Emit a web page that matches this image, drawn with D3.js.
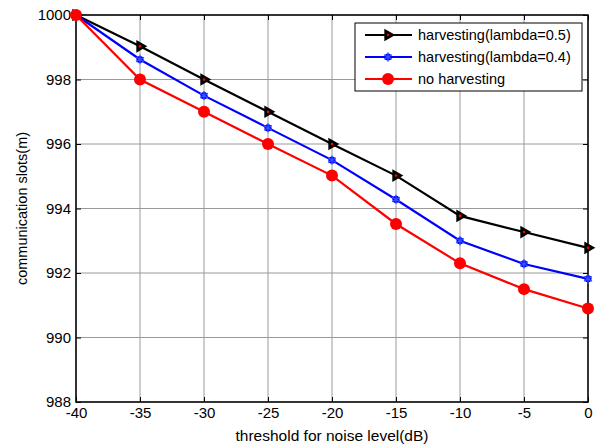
<!DOCTYPE html>
<html>
<head>
<meta charset="utf-8">
<script src="https://cdn.jsdelivr.net/npm/d3@7"></script>
<style>
  body { margin: 0; background: #fff; }
  text { font-family: "Liberation Sans", Arial, sans-serif; }
</style>
</head>
<body>
<svg id="chart" width="598" height="444"></svg>
<script>
var xValues = [-40, -35, -30, -25, -20, -15, -10, -5, 0];
var harvest05 = [1000, 999.03, 998.0, 997.0, 996.0, 995.02, 993.77, 993.27, 992.78];
var harvest04 = [1000, 998.62, 997.5, 996.5, 995.5, 994.28, 993.0, 992.28, 991.82];
var noHarvest = [1000, 998.0, 997.0, 996.0, 995.02, 993.52, 992.3, 991.5, 990.9];
var seriesNames = ["harvesting(lambda=0.5)", "harvesting(lambda=0.4)", "no harvesting"];
var xTicks = [-40, -35, -30, -25, -20, -15, -10, -5, 0];
var yTicks = [988, 990, 992, 994, 996, 998, 1000];

var margin = {left: 76, right: 10, top: 15, bottom: 42};
var width = 598, height = 444;

var svg = d3.select("#chart");

var x = d3.scaleLinear().domain([-40, 0]).range([margin.left, width - margin.right]);
var y = d3.scaleLinear().domain([988, 1000]).range([height - margin.bottom, margin.top]);

var colors = ["#000000", "#0000ff", "#ff0000"];
var series = [harvest05, harvest04, noHarvest];

// plain hyphen like matlab
var fmt = function(d) { return String(d); };

// grid
svg.append("g")
  .selectAll("line.gx")
  .data(xTicks)
  .enter()
  .append("line")
  .attr("x1", d => x(d)).attr("x2", d => x(d))
  .attr("y1", y(988)).attr("y2", y(1000))
  .attr("stroke", "#9a9a9a")
  .attr("stroke-width", 1);

svg.append("g")
  .selectAll("line.gy")
  .data(yTicks)
  .enter()
  .append("line")
  .attr("y1", d => y(d)).attr("y2", d => y(d))
  .attr("x1", x(-40)).attr("x2", x(0))
  .attr("stroke", "#9a9a9a")
  .attr("stroke-width", 1);

// axes
var xAxis = d3.axisBottom(x).tickValues(xTicks).tickSize(-5).tickPadding(5).tickFormat(fmt);
var yAxis = d3.axisLeft(y).tickValues(yTicks).tickSize(-5).tickPadding(5).tickFormat(fmt);
var xTop = d3.axisTop(x).tickValues(xTicks).tickSize(-5).tickFormat("");
var yRight = d3.axisRight(y).tickValues(yTicks).tickSize(-5).tickFormat("");

function styleAxis(g) {
  g.select(".domain").remove();
  g.selectAll("line").attr("stroke", "#000");
  g.selectAll("text").attr("fill", "#000").style("font-size", "15px")
    .style("font-family", "'Liberation Sans', Arial, sans-serif");
}

svg.append("g").attr("transform", "translate(0," + y(988) + ")").call(xAxis).call(styleAxis);
svg.append("g").attr("transform", "translate(" + x(-40) + ",0)").call(yAxis).call(styleAxis);
svg.append("g").attr("transform", "translate(0," + y(1000) + ")").call(xTop).call(styleAxis);
svg.append("g").attr("transform", "translate(" + x(0) + ",0)").call(yRight).call(styleAxis);

svg.append("rect")
  .attr("x", x(-40)).attr("y", y(1000))
  .attr("width", x(0) - x(-40)).attr("height", y(988) - y(1000))
  .attr("fill", "none").attr("stroke", "#000").attr("stroke-width", 1.5);

// lines
var line = d3.line()
  .x((d, i) => x(xValues[i]))
  .y(d => y(d));

var tri = d3.symbol().type(d3.symbolTriangle).size(70);

function drawMarker(g, k, px, py) {
  if (k === 0) {
    g.append("path")
      .attr("d", tri())
      .attr("transform", "translate(" + px + "," + py + ") rotate(90)")
      .attr("fill", "#000");
    g.append("circle").attr("cx", px).attr("cy", py).attr("r", 1.3).attr("fill", "#ff0000");
  } else if (k === 1) {
    g.append("circle").attr("cx", px).attr("cy", py).attr("r", 3.6).attr("fill", "#0000ff");
    g.append("path")
      .attr("d", d3.symbol().type(d3.symbolAsterisk).size(60)())
      .attr("transform", "translate(" + px + "," + py + ")")
      .attr("stroke", "#3355ff").attr("stroke-width", 1.2);
  } else {
    g.append("circle").attr("cx", px).attr("cy", py).attr("r", 6).attr("fill", "#ff0000");
  }
}

series.forEach(function(s, k) {
  svg.append("path")
    .datum(s)
    .attr("d", line)
    .attr("fill", "none")
    .attr("stroke", colors[k])
    .attr("stroke-width", 2.2);
});

series.forEach(function(s, k) {
  var g = svg.append("g");
  s.forEach(function(v, i) {
    drawMarker(g, k, x(xValues[i]), y(v));
  });
});

// legend
var legend = svg.append("g");
legend.append("rect")
  .attr("x", 355).attr("y", 23).attr("width", 227).attr("height", 68)
  .attr("fill", "#fff").attr("stroke", "#000").attr("stroke-width", 1);

var legendY = [35, 57, 79];
seriesNames.forEach(function(name, k) {
  legend.append("line")
    .attr("x1", 365).attr("x2", 412)
    .attr("y1", legendY[k]).attr("y2", legendY[k])
    .attr("stroke", colors[k]).attr("stroke-width", 2.2);
  drawMarker(legend, k, 388, legendY[k]);
  legend.append("text")
    .attr("x", 418).attr("y", legendY[k])
    .attr("dy", "0.35em")
    .style("font-size", "14.5px")
    .text(name);
});

// axis labels
svg.append("text")
  .attr("x", x(-20)).attr("y", 441)
  .attr("text-anchor", "middle")
  .style("font-size", "15.5px")
  .text("threshold for noise level(dB)");

svg.append("text")
  .attr("transform", "translate(27," + y(994) + ") rotate(-90)")
  .attr("text-anchor", "middle")
  .style("font-size", "14.5px")
  .text("communication slots(m)");
</script>
</body>
</html>
